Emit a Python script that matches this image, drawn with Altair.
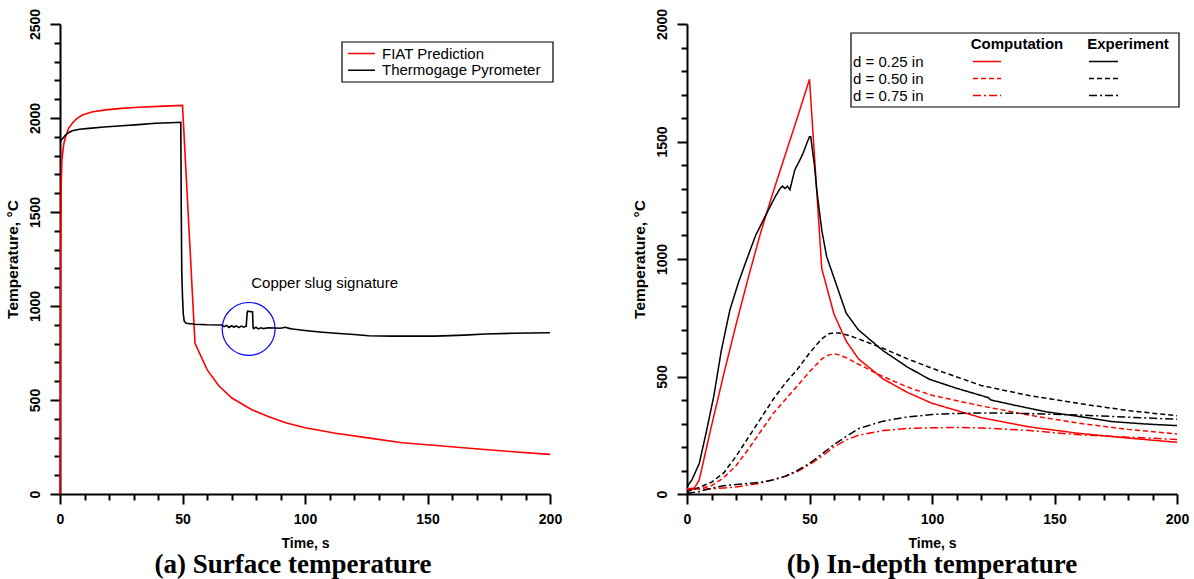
import altair as alt
import pandas as pd

# ---------------- Panel (a): surface temperature ----------------
fiat_t = [0, 0.15, 0.3, 0.5, 0.8, 1.5, 2.3, 3.5, 5, 7, 9.1, 13, 18.6, 25, 32.2, 40, 50,
          55.1, 60.1, 64.9, 70.3, 78.5, 85, 92.1, 100, 112.5, 125, 139.7, 150, 167, 185, 200]
fiat_v = [0, 800, 1300, 1650, 1780, 1860, 1900, 1945, 1972, 1998, 2016, 2032, 2043, 2051, 2057, 2062, 2067,
          802, 660, 574, 509, 447, 412, 379, 352, 323, 300, 273, 262, 243, 225, 211]

pyro_t = [0, 1, 2.3, 3.5, 5, 8, 11.8, 18, 25.4, 32, 39, 45, 49.3, 49.5, 49.7, 50, 50.3, 50.7, 51.5,
          55, 60, 66, 67, 68, 69, 70, 71, 72, 73, 74, 75, 76, 76.4, 76.6, 78.6, 78.8, 79, 80, 81, 82,
          83, 85, 90, 92, 93.5, 95, 100, 106, 112.5, 120, 126, 135, 153, 165, 173.7, 185, 200]
pyro_v = [1874, 1890, 1910, 1922, 1932, 1940, 1945, 1952, 1959, 1965, 1972, 1975, 1977, 1500, 1180, 1050, 960, 920, 908,
          903, 900, 899, 890, 897, 886, 895, 888, 894, 885, 893, 887, 892, 965, 972, 968, 888, 880, 887, 878, 884,
          880, 884, 882, 887, 881, 878, 870, 862, 855, 848, 842, 840, 840, 845, 851, 855, 858]

left_series = ["FIAT Prediction", "Thermogage Pyrometer"]
left_colors = ["#ff0000", "#000000"]

slug_t = [77.0]
slug_v = [878]
note_t = [108]
note_v = [1120]
note_text = ["Copper slug signature"]

# ---------------- Panel (b): in-depth temperature ----------------
c25_t = [0, 3, 5, 10, 15, 20, 25, 30, 35, 40, 45, 50, 55, 60, 65, 70, 80, 90, 100, 120, 140, 160, 180, 200]
c25_v = [22, 25, 60, 290, 510, 720, 920, 1110, 1280, 1440, 1600, 1765, 960, 765, 650, 575, 490, 432, 386, 325, 285, 258, 238, 220]

e25_t = [0, 2, 5, 8, 11, 14, 17.5, 21, 24.3, 28, 32.5, 36, 38, 39, 40, 41, 42, 44, 46, 47.4, 49, 50, 50.5,
         52, 53, 55, 57, 60, 65, 70, 80, 90, 99, 110, 123, 124, 135, 146.5, 160, 173.6, 187, 200]
e25_v = [30, 60, 130, 270, 420, 610, 783, 900, 996, 1100, 1194, 1265, 1300, 1310, 1300, 1310, 1295, 1379, 1420, 1450, 1495, 1520, 1520,
         1400, 1290, 1123, 1010, 920, 769, 698, 610, 540, 488, 450, 410, 400, 375, 350, 330, 308, 298, 291]

c50_t = [0, 5, 10, 15, 20, 25, 30, 35, 40, 45, 50, 55, 58, 60, 62, 65, 70, 80, 90, 100, 120, 140, 160, 180, 200]
c50_v = [20, 22, 35, 70, 120, 190, 265, 340, 400, 460, 520, 575, 592, 596, 592, 580, 552, 500, 455, 420, 375, 335, 301, 275, 255]

e50_t = [0, 5, 10, 15, 20, 25, 30, 35, 40, 45, 50, 55, 58, 60, 62, 65, 70, 80, 90, 100, 120, 140, 160, 180, 200]
e50_v = [10, 28, 50, 90, 160, 240, 320, 400, 470, 530, 600, 660, 682, 686, 685, 678, 660, 620, 575, 535, 462, 418, 385, 355, 333]

c75_t = [0, 5, 10, 15, 20, 25, 30, 35, 40, 45, 50, 55, 60, 65, 70, 80, 90, 100, 110, 120, 130, 140, 160, 180, 200]
c75_v = [20, 20, 22, 26, 30, 38, 46, 60, 75, 95, 125, 160, 200, 230, 250, 270, 279, 282, 283, 281, 276, 270, 252, 242, 232]

e75_t = [0, 5, 10, 15, 20, 25, 30, 35, 40, 45, 50, 55, 60, 65, 70, 80, 90, 100, 110, 120, 130, 140, 160, 180, 200]
e75_v = [3, 10, 25, 35, 40, 45, 50, 60, 75, 100, 130, 170, 210, 245, 278, 310, 328, 338, 343, 345, 344, 342, 336, 327, 318]

sources = ["Computation", "Experiment"]
source_colors = ["#ff0000", "#000000"]
depths = ["d = 0.25 in", "d = 0.50 in", "d = 0.75 in"]
dashes = [[1, 0], [5, 3], [8, 3, 2, 3]]

x_ticks = list(range(0, 201, 10))   # labelled every 50

FONT = "Liberation Sans"


def frame(t, v, **cols):
    d = pd.DataFrame({"t": t, "v": v})
    for k, val in cols.items():
        d[k] = val
    return d


left_df = pd.concat([
    frame(fiat_t, fiat_v, series=left_series[0]),
    frame(pyro_t, pyro_v, series=left_series[1]),
], ignore_index=True)

line_df = pd.concat([
    frame(c25_t, c25_v, src="Computation", depth=depths[0]),
    frame(c50_t, c50_v, src="Computation", depth=depths[1]),
    frame(c75_t, c75_v, src="Computation", depth=depths[2]),
    frame(e25_t, e25_v, src="Experiment", depth=depths[0]),
    frame(e50_t, e50_v, src="Experiment", depth=depths[1]),
    frame(e75_t, e75_v, src="Experiment", depth=depths[2]),
], ignore_index=True)
line_df["key"] = line_df["src"] + line_df["depth"]

W, H = 490, 470
one = pd.DataFrame({"k": [0]})


def scales_axes(ymax):
    xs = alt.Scale(domain=[0, 200], nice=False, zero=False)
    ys = alt.Scale(domain=[0, ymax], nice=False)
    x_ax = alt.Axis(values=x_ticks, orient="bottom", title="Time, s", format="d",
                    tickSize={"condition": {"test": "datum.value % 50 === 0", "value": 10}, "value": 6},
                    labelExpr="datum.value % 50 === 0 ? datum.label : ''", labelOverlap=False,
                    labelFlush=False, labelPadding=8, titlePadding=10, grid=False)
    y_ax = alt.Axis(values=list(range(0, ymax + 1, 100)), orient="left", format="d",
                    tickSize={"condition": {"test": "datum.value % 500 === 0", "value": 10}, "value": 6},
                    labelExpr="datum.value % 500 === 0 ? datum.label : ''", labelOverlap=False,
                    labelFlush=False,
                    title="Temperature, °C", titleFontSize=15.5, labelAngle=-90, labelAlign="center",
                    labelBaseline="bottom", labelPadding=8, titlePadding=8, grid=False)
    return xs, ys, x_ax, y_ax


def legend_box(x1, x2, y1, y2):
    return alt.Chart(one).mark_rect(fill="white", stroke="black", strokeWidth=1.2).encode(
        x=alt.value(x1), x2=alt.value(x2), y=alt.value(y1), y2=alt.value(y2))


def legend_text(txt, x, y, align="left", bold=False):
    return alt.Chart(one).mark_text(
        text=txt, font=FONT, fontSize=15, fontWeight="bold" if bold else "normal", color="black",
        align=align, baseline="middle").encode(x=alt.value(x), y=alt.value(y))


def legend_line(color, dash, x1, x2, y):
    return alt.Chart(one).mark_rule(color=color, strokeDash=dash, strokeWidth=1.6).encode(
        x=alt.value(x1), x2=alt.value(x2), y=alt.value(y))


# ---- left chart ----
xs, ys, x_ax, y_ax = scales_axes(2500)
color_l = alt.Color("series:N", scale=alt.Scale(domain=left_series, range=left_colors), legend=None)

lines_l = alt.Chart(left_df).mark_line(strokeWidth=1.6).encode(
    x=alt.X("t:Q", scale=xs, axis=x_ax), y=alt.Y("v:Q", scale=ys, axis=y_ax),
    color=color_l, detail="series:N", order="t:Q")
circle_layer = alt.Chart(pd.DataFrame({"t": slug_t, "v": slug_v})).mark_point(
    shape="circle", size=2800, filled=False, color="#0000ff", strokeWidth=1.2, opacity=1).encode(
    x=alt.X("t:Q", scale=xs, axis=x_ax), y=alt.Y("v:Q", scale=ys, axis=y_ax))
note_layer = alt.Chart(pd.DataFrame({"t": note_t, "v": note_v, "txt": note_text})).mark_text(
    font=FONT, fontSize=15, color="black", align="center", baseline="middle").encode(
    x=alt.X("t:Q", scale=xs, axis=x_ax), y=alt.Y("v:Q", scale=ys, axis=y_ax), text="txt:N")

left_leg = [legend_box(282, 493, 18, 58)]
for i, s in enumerate(left_series):
    yy = 29.5 + i * 16.7
    left_leg.append(legend_line(left_colors[i], [1, 0], 288, 315, yy))
    left_leg.append(legend_text(s, 322, yy))

left = alt.layer(lines_l, circle_layer, note_layer, *left_leg).properties(
    width=W, height=H,
    title=alt.TitleParams("(a) Surface temperature", orient="bottom", font="Liberation Serif",
                          fontSize=27, fontWeight="bold", color="black", offset=2, dx=-12))

# ---- right chart ----
xs2, ys2, x_ax2, y_ax2 = scales_axes(2000)
color_r = alt.Color("src:N", scale=alt.Scale(domain=sources, range=source_colors), legend=None)
dash_r = alt.StrokeDash("depth:N", scale=alt.Scale(domain=depths, range=dashes), legend=None)

lines_r = alt.Chart(line_df).mark_line(strokeWidth=1.5).encode(
    x=alt.X("t:Q", scale=xs2, axis=x_ax2), y=alt.Y("v:Q", scale=ys2, axis=y_ax2),
    color=color_r, strokeDash=dash_r, detail="key:N", order="t:Q")

right_leg = [legend_box(164, 492, 9, 83)]
head_x = [330, 441]
for i, s in enumerate(sources):
    right_leg.append(legend_text(s, head_x[i], 20, align="center", bold=True))
line_x = [(286, 314), (402, 431)]
for j, dlab in enumerate(depths):
    yy = 37.5 + j * 17
    right_leg.append(legend_text(dlab, 166, yy))
    for i, s in enumerate(sources):
        right_leg.append(legend_line(source_colors[i], dashes[j], line_x[i][0], line_x[i][1], yy))

right = alt.layer(lines_r, *right_leg).properties(
    width=W, height=H,
    title=alt.TitleParams("(b) In-depth temperature", orient="bottom", font="Liberation Serif",
                          fontSize=27, fontWeight="bold", color="black", offset=2))

chart = alt.hconcat(left, right, spacing=70).resolve_scale(
    color="independent", strokeDash="independent"
).properties(
    padding={"left": 5, "top": 8, "right": 0, "bottom": 2}
).configure_view(stroke=None).configure_axis(
    domainColor="black", domainWidth=2, tickColor="black", tickWidth=2,
    labelFont=FONT, labelFontSize=14, labelFontWeight="bold", labelColor="black",
    titleFont=FONT, titleFontSize=14, titleFontWeight="bold", titleColor="black"
).configure_title(anchor="middle")

chart.save("out.html", embed_options={"renderer": "svg", "actions": False})
